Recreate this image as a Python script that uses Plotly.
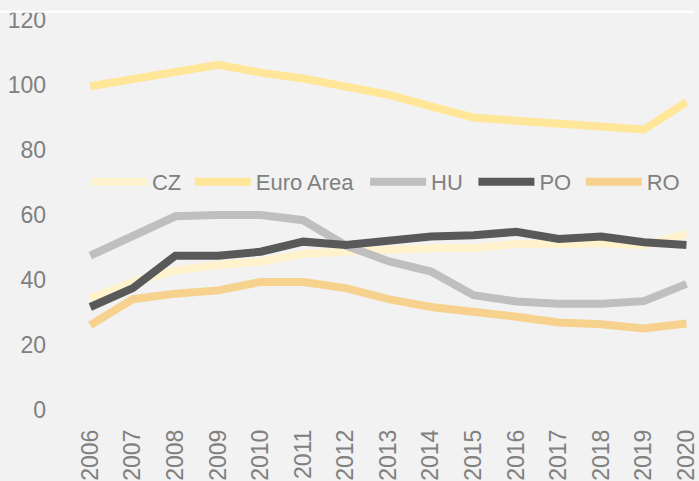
import plotly.graph_objects as go

years = list(range(2006, 2021))
cz = [34.3, 39.4, 42.9, 44.7, 45.7, 48.0, 48.8, 49.6, 49.8, 49.8, 51.1, 51.1, 51.4, 50.6, 54.2]
euro_area = [99.6, 102.0, 103.8, 106.2, 103.8, 102.0, 99.5, 97.0, 93.4, 90.0, 89.0, 88.2, 87.0, 86.3, 94.7]
hu = [47.5, 53.3, 59.6, 60.0, 60.0, 58.4, 50.6, 45.8, 42.6, 35.3, 33.4, 32.7, 32.7, 33.5, 38.8]
po = [31.7, 37.5, 47.5, 47.5, 48.7, 51.8, 50.8, 52.1, 53.4, 53.8, 54.8, 52.6, 53.4, 51.6, 50.8]
ro = [26.1, 34.1, 35.8, 36.8, 39.4, 39.4, 37.5, 34.1, 31.7, 30.4, 28.7, 26.9, 26.4, 25.1, 26.6]

names = ["CZ", "Euro Area", "HU", "PO", "RO"]
values = [cz, euro_area, hu, po, ro]
colors = ["#fff2cc", "#ffe699", "#bfbfbf", "#595959", "#f7d18e"]
y_ticks = [0, 20, 40, 60, 80, 100, 120]

FONT = "Liberation Sans, Arial, sans-serif"
GREY = "#808080"

W, H = 699, 481
ML, MR, MT, MB = 69, 0, 20, 69
plot_w = W - ML - MR

# legend entry left edges in pixels (one legend box per series)
legend_px = [86, 190.5, 367, 476, 584]
legend_ids = ["legend", "legend2", "legend3", "legend4", "legend5"]

fig = go.Figure()
for name, vals, col, lid in zip(names, values, colors, legend_ids):
    fig.add_trace(go.Scatter(x=years, y=vals, name=name, mode="lines",
                             line=dict(color=col, width=8), legend=lid,
                             hoverinfo="skip"))

legend_cfg = {}
for lid, px in zip(legend_ids, legend_px):
    legend_cfg[lid] = dict(orientation="h", x=(px - ML) / plot_w, xanchor="left",
                           y=0.585, yanchor="middle", bgcolor="rgba(0,0,0,0)",
                           font=dict(size=22, color=GREY), itemwidth=56)

fig.update_layout(
    width=W, height=H,
    margin=dict(l=ML, r=MR, t=MT, b=MB),
    paper_bgcolor="#f2f2f2", plot_bgcolor="#f2f2f2",
    font=dict(family=FONT, color=GREY, size=23),
    showlegend=True,
    xaxis=dict(range=[2005.5, 2020.2], tickmode="array", tickvals=years,
               ticktext=[str(y) for y in years], tickangle=-90,
               showgrid=False, zeroline=False, showline=False, ticks="",
               ticklabelstandoff=14, ticklabeloverflow="allow",
               tickfont=dict(size=23, color=GREY)),
    yaxis=dict(range=[0, 120], tickmode="array", tickvals=y_ticks,
               showgrid=False, zeroline=False, showline=False, ticks="",
               ticklabelstandoff=22, ticklabeloverflow="allow",
               tickfont=dict(size=23, color=GREY)),
    shapes=[dict(type="line", xref="paper", yref="paper", x0=-0.12, x1=1.0,
                 y0=1.021, y1=1.021, line=dict(color="#ffffff", width=2))],
    **legend_cfg,
)

fig.write_html("out.html", config={"displayModeBar": False},
               post_script="document.body.style.margin='0';document.body.style.background='#f2f2f2';")
